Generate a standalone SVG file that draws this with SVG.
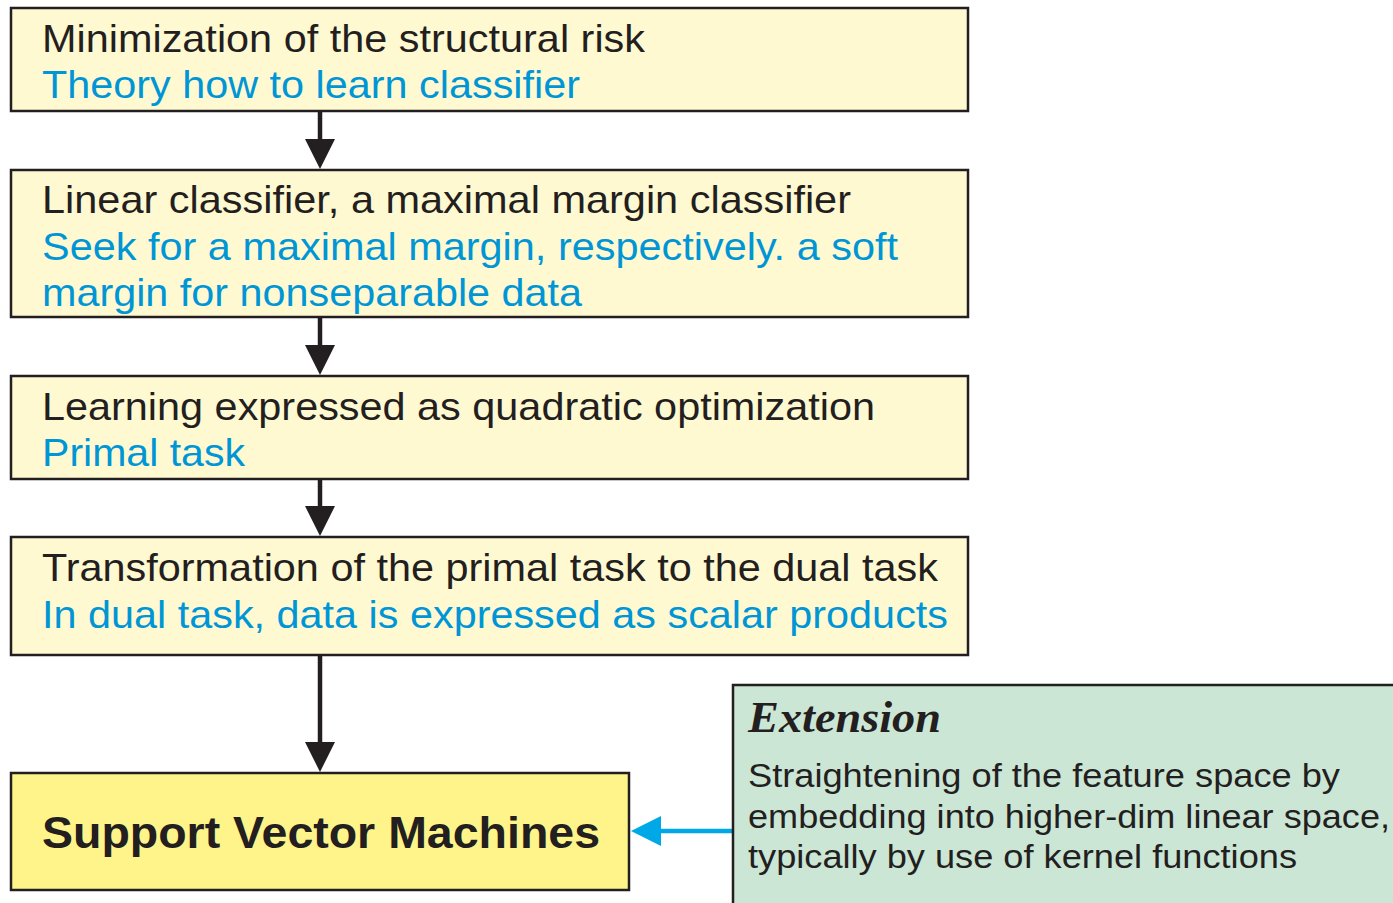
<svg xmlns="http://www.w3.org/2000/svg" width="1393" height="903" viewBox="0 0 1393 903">
<style>
.box{fill:#fff9d2;stroke:#231f20;stroke-width:2.5}
.t{font-family:"Liberation Sans",Arial,sans-serif;font-size:39px;fill:#231f20}
.b{fill:#0096d6}
.ln{stroke:#231f20;stroke-width:4.5;fill:none}
.ah{fill:#231f20}
</style>
<rect width="1393" height="903" fill="#ffffff"/>
<g id="connectors">
<line class="ln" x1="320" y1="111" x2="320" y2="140"/>
<polygon class="ah" points="305,139 335,139 320,169"/>
<line class="ln" x1="320" y1="317" x2="320" y2="346"/>
<polygon class="ah" points="305,345 335,345 320,375"/>
<line class="ln" x1="320" y1="479" x2="320" y2="507"/>
<polygon class="ah" points="305,506 335,506 320,536"/>
<line class="ln" x1="320" y1="655" x2="320" y2="743"/>
<polygon class="ah" points="305,742 335,742 320,772"/>
<line x1="733" y1="831" x2="658" y2="831" stroke="#00a8e8" stroke-width="4.5"/>
<polygon points="631,831 661,816 661,846" fill="#00a8e8"/>
</g>
<g id="n1">
<rect class="box" x="11" y="8" width="957" height="103"/>
<text class="t" x="42" y="52" textLength="603" lengthAdjust="spacingAndGlyphs">Minimization of the structural risk</text>
<text class="t b" x="42" y="98" textLength="538" lengthAdjust="spacingAndGlyphs">Theory how to learn classifier</text>
</g>
<g id="n2">
<rect class="box" x="11" y="170" width="957" height="147"/>
<text class="t" x="42" y="213" textLength="809" lengthAdjust="spacingAndGlyphs">Linear classifier, a maximal margin classifier</text>
<text class="t b" x="42" y="260" textLength="856" lengthAdjust="spacingAndGlyphs">Seek for a maximal margin, respectively. a soft</text>
<text class="t b" x="42" y="306" textLength="540" lengthAdjust="spacingAndGlyphs">margin for nonseparable data</text>
</g>
<g id="n3">
<rect class="box" x="11" y="376" width="957" height="103"/>
<text class="t" x="42" y="420" textLength="833" lengthAdjust="spacingAndGlyphs">Learning expressed as quadratic optimization</text>
<text class="t b" x="42" y="466" textLength="203" lengthAdjust="spacingAndGlyphs">Primal task</text>
</g>
<g id="n4">
<rect class="box" x="11" y="537" width="957" height="118"/>
<text class="t" x="42" y="581" textLength="896" lengthAdjust="spacingAndGlyphs">Transformation of the primal task to the dual task</text>
<text class="t b" x="42" y="628" textLength="906" lengthAdjust="spacingAndGlyphs">In dual task, data is expressed as scalar products</text>
</g>
<g id="svm">
<rect x="11" y="773" width="618" height="117" fill="#fff48a" stroke="#231f20" stroke-width="2.5"/>
<text x="42" y="848" font-family="'Liberation Sans',Arial,sans-serif" font-size="45" font-weight="bold" fill="#231f20" textLength="558" lengthAdjust="spacingAndGlyphs">Support Vector Machines</text>
</g>
<g id="ext">
<rect x="733" y="685" width="670" height="230" fill="#cce6d6" stroke="#231f20" stroke-width="2.5"/>
<text x="748" y="732" font-family="'Liberation Serif','Times New Roman',serif" font-size="45" font-weight="bold" font-style="italic" fill="#231f20" textLength="193" lengthAdjust="spacingAndGlyphs">Extension</text>
<g font-family="'Liberation Sans',Arial,sans-serif" font-size="34" fill="#231f20">
<text x="748" y="787" textLength="592" lengthAdjust="spacingAndGlyphs">Straightening of the feature space by</text>
<text x="748" y="828" textLength="642" lengthAdjust="spacingAndGlyphs">embedding into higher-dim linear space,</text>
<text x="748" y="868" textLength="549" lengthAdjust="spacingAndGlyphs">typically by use of kernel functions</text>
</g>
</g>
</svg>
